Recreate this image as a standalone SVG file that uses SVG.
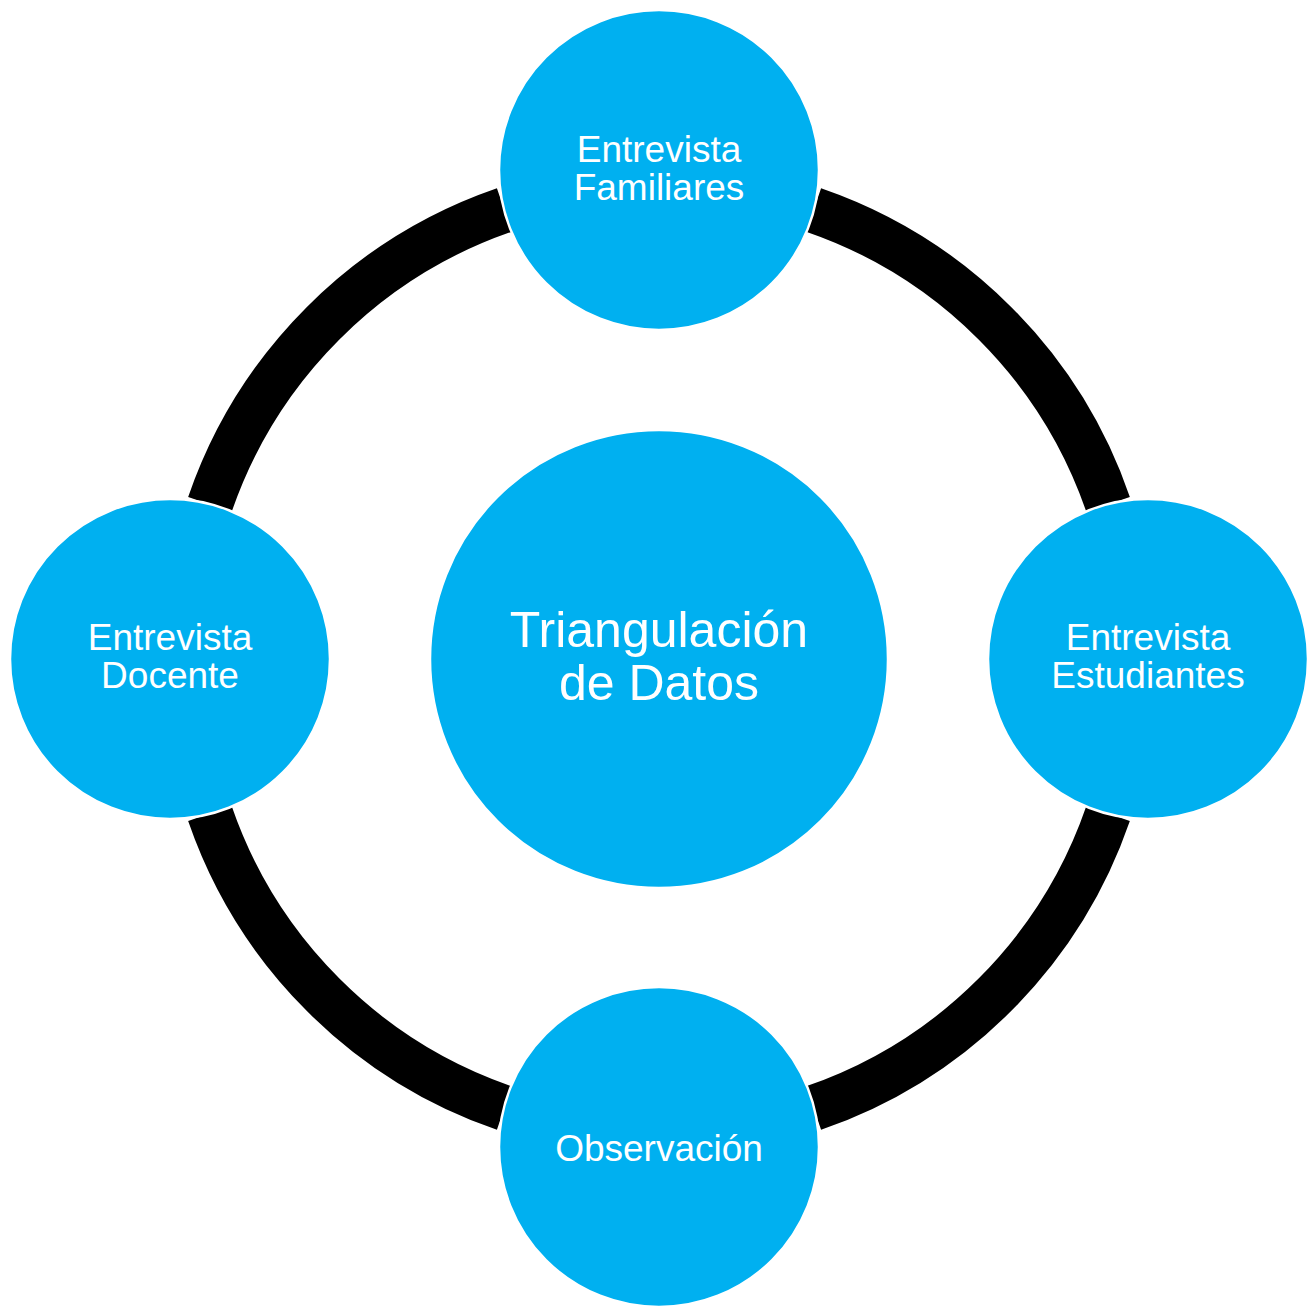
<svg xmlns="http://www.w3.org/2000/svg" width="1310" height="1306" viewBox="0 0 1310 1306">
<style>
.node{fill:#00B0F0;stroke:#FFFFFF;stroke-width:2.5}
.arc{fill:none;stroke:#000000;stroke-width:46;stroke-linecap:butt}
.lbl{font-family:"Liberation Sans",Arial,sans-serif;fill:#FFFFFF;text-anchor:middle;font-size:37px}
.big{font-size:50px}
</style>
<rect width="1310" height="1306" fill="#FFFFFF"/>
<g id="connectors">
<path class="arc" d="M813.6,209.9 A475,475 0 0 1 1108.1,504.4"/>
<path class="arc" d="M1108.1,813.6 A475,475 0 0 1 813.6,1108.1"/>
<path class="arc" d="M504.4,1108.1 A475,475 0 0 1 209.9,813.6"/>
<path class="arc" d="M209.9,504.4 A475,475 0 0 1 504.4,209.9"/>
</g>
<g id="center">
<circle class="node" cx="659" cy="659" r="229"/>
<text class="lbl big" x="659" y="647">Triangulación</text>
<text class="lbl big" x="659" y="700">de Datos</text>
</g>
<g id="familiares">
<circle class="node" cx="659" cy="170" r="160"/>
<text class="lbl" x="659" y="162">Entrevista</text>
<text class="lbl" x="659" y="200">Familiares</text>
</g>
<g id="estudiantes">
<circle class="node" cx="1148" cy="659" r="160"/>
<text class="lbl" x="1148" y="650">Entrevista</text>
<text class="lbl" x="1148" y="688">Estudiantes</text>
</g>
<g id="observacion">
<circle class="node" cx="659" cy="1147" r="160"/>
<text class="lbl" x="659" y="1161">Observación</text>
</g>
<g id="docente">
<circle class="node" cx="170" cy="659" r="160"/>
<text class="lbl" x="170" y="650">Entrevista</text>
<text class="lbl" x="170" y="688">Docente</text>
</g>
</svg>
